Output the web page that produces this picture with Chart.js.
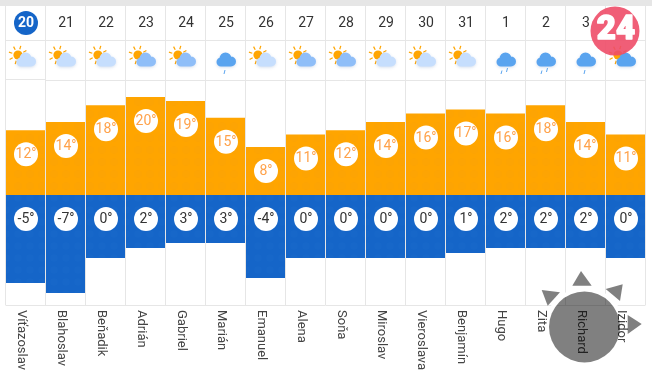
<!DOCTYPE html>
<html>
<head>
<meta charset="utf-8">
<style>
  html, body { margin: 0; padding: 0; background: #fff; overflow: hidden; }
  canvas { display: block; }
</style>
<script src="https://cdn.jsdelivr.net/npm/chart.js@4"></script>
</head>
<body>
<canvas id="chart" width="652" height="374"></canvas>
<script>
// Data
const days = ['20', '21', '22', '23', '24', '25', '26', '27', '28', '29', '30', '31', '1', '2', '3', '4'];
const names = ['Víťazoslav', 'Blahoslav', 'Beňadik', 'Adrián', 'Gabriel', 'Marián', 'Emanuel', 'Alena', 'Soňa', 'Miroslav', 'Vieroslava', 'Benjamín', 'Hugo', 'Zita', 'Richard', 'Izidor'];
const maxTemps = [12, 14, 18, 20, 19, 15, 8, 11, 12, 14, 16, 17, 16, 18, 14, 11];
const minTemps = [-5, -7, 0, 2, 3, 3, -4, 0, 0, 0, 0, 1, 2, 2, 2, 0];
// sky: sun or not, cloud shade, number of drops
const sun = [1, 1, 1, 1, 1, 0, 1, 1, 1, 1, 1, 1, 0, 0, 0, 1];
const clouds = [0, 0, 0, 1, 1, 2, 0, 1, 1, 0, 0, 0, 2, 2, 2, 2];
const drops = [0, 0, 0, 0, 0, 1, 0, 0, 0, 0, 0, 0, 2, 2, 1, 0];

const ORANGE = '#ffa500';
const BLUE = '#1565c8';
const GRID = '#e6e6e6';
const CLOUD_COLORS = ['#c6defd', '#8fbef8', '#5aa4ef'];
const FONT = 'Roboto, sans-serif';

// faint dots inside the bars
function dotted(base, dot) {
  const c = document.createElement('canvas');
  c.width = c.height = 12;
  const g = c.getContext('2d');
  g.fillStyle = base;
  g.fillRect(0, 0, 12, 12);
  g.fillStyle = dot;
  g.beginPath();
  g.arc(6, 6, 4, 0, Math.PI * 2);
  g.fill();
  return g.createPattern(c, 'repeat');
}

function drawCloud(ctx, x, color) {
  ctx.save();
  ctx.shadowColor = 'rgba(90,130,190,0.25)';
  ctx.shadowBlur = 3;
  ctx.shadowOffsetY = 1;
  ctx.fillStyle = color;
  ctx.beginPath();
  ctx.arc(x - 5, 62, 4.5, 0, Math.PI * 2);
  ctx.arc(x - 0.5, 58.5, 6, 0, Math.PI * 2);
  ctx.arc(x + 5, 61.5, 5, 0, Math.PI * 2);
  ctx.rect(x - 5, 60, 10, 6.5);
  ctx.fill();
  ctx.restore();
}

function drawSun(ctx, x) {
  const cx = x - 8, cy = 55;
  ctx.strokeStyle = ORANGE;
  ctx.lineWidth = 1.2;
  for (let k = 0; k < 8; k++) {
    const a = k * Math.PI / 4 + 0.3;
    ctx.beginPath();
    ctx.moveTo(cx + Math.cos(a) * 6, cy + Math.sin(a) * 6);
    ctx.lineTo(cx + Math.cos(a) * 9.5, cy + Math.sin(a) * 9.5);
    ctx.stroke();
  }
  ctx.fillStyle = ORANGE;
  ctx.beginPath();
  ctx.arc(cx, cy, 4.6, 0, Math.PI * 2);
  ctx.fill();
}

function drawDrops(ctx, x, n) {
  ctx.strokeStyle = CLOUD_COLORS[2];
  ctx.lineWidth = 1;
  const xs = n === 1 ? [x - 1] : [x - 4, x + 1.5];
  xs.forEach((dx, k) => {
    const top = n === 1 ? 70 : 68.5 + k * -0.5;
    ctx.beginPath();
    ctx.moveTo(dx + 0.5, top + (n === 2 && k === 0 ? 2 : 0));
    ctx.lineTo(dx - 0.5, top + 4 + (n === 2 && k === 0 ? 1.5 : 0));
    ctx.stroke();
  });
}

function triangle(ctx, a, b, c) {
  ctx.beginPath();
  ctx.moveTo(a[0], a[1]);
  ctx.lineTo(b[0], b[1]);
  ctx.lineTo(c[0], c[1]);
  ctx.closePath();
  ctx.fill();
}

const calendarPlugin = {
  id: 'calendar',
  // table lines and header rows
  beforeDatasetsDraw(chart) {
    const { ctx, chartArea, scales } = chart;
    ctx.save();
    ctx.fillStyle = GRID;
    ctx.fillRect(0, 0, 652, 6);
    ctx.strokeStyle = GRID;
    ctx.lineWidth = 1;
    ctx.beginPath();
    ctx.moveTo(chartArea.left, 40.5);
    ctx.lineTo(chartArea.right, 40.5);
    ctx.moveTo(chartArea.left, 79.5);
    ctx.lineTo(scales.x.getPixelForTick(1) - 20, 79.5);
    ctx.moveTo(scales.x.getPixelForTick(1) - 20, 80.5);
    ctx.lineTo(chartArea.right, 80.5);
    ctx.moveTo(chartArea.left, 305.5);
    ctx.lineTo(chartArea.right, 305.5);
    ctx.stroke();

    days.forEach((d, i) => {
      const x = scales.x.getPixelForTick(i);
      if (i === 0) {
        ctx.fillStyle = BLUE;
        ctx.beginPath();
        ctx.arc(x + 0.5, 23, 12, 0, Math.PI * 2);
        ctx.fill();
      }
      ctx.fillStyle = i === 0 ? '#fff' : '#333';
      ctx.font = (i === 0 ? 'bold ' : '') + '14px ' + FONT;
      ctx.textAlign = 'center';
      ctx.textBaseline = 'middle';
      ctx.fillText(d, x + 0.5, 23.5);

      if (sun[i]) drawSun(ctx, x + 0.5);
      drawCloud(ctx, x + 0.5, CLOUD_COLORS[clouds[i]]);
      if (drops[i]) drawDrops(ctx, x, drops[i]);
    });
    ctx.restore();
  },
  afterDraw(chart) {
    const { ctx, scales } = chart;
    ctx.save();

    // white discs with the temperatures
    [0, 1].forEach(ds => {
      const values = ds === 0 ? maxTemps : minTemps;
      chart.getDatasetMeta(ds).data.forEach((bar, i) => {
        const cy = ds === 0 ? bar.y + 24 : bar.base + 24;
        ctx.fillStyle = '#fff';
        ctx.beginPath();
        ctx.arc(bar.x + 0.5, cy, 12, 0, Math.PI * 2);
        ctx.fill();
        ctx.fillStyle = ds === 0 ? '#ffa24a' : '#333';
        ctx.font = '14px ' + FONT;
        ctx.textAlign = 'center';
        ctx.textBaseline = 'middle';
        ctx.fillText(values[i] + '°', bar.x + 0.5, cy + 0.5);
      });
    });

    // white halo of the round menu, under the names
    ctx.strokeStyle = '#fff';
    ctx.lineWidth = 4;
    ctx.beginPath();
    ctx.arc(584.5, 327, 37.5, Math.PI, Math.PI * 2);
    ctx.stroke();

    // names run downwards under each column
    names.forEach((n, i) => {
      const x = scales.x.getPixelForTick(i);
      ctx.save();
      ctx.translate(x - 4, 310);
      ctx.rotate(Math.PI / 2);
      ctx.fillStyle = '#444';
      ctx.font = '13px ' + FONT;
      ctx.textAlign = 'left';
      ctx.textBaseline = 'middle';
      ctx.fillText(n, 0, 0);
      ctx.restore();
    });

    // round menu overlay
    ctx.globalCompositeOperation = 'multiply';
    ctx.fillStyle = '#808080';
    ctx.beginPath();
    ctx.arc(584.5, 327, 35.5, 0, Math.PI * 2);
    ctx.fill();
    triangle(ctx, [581, 271], [572.3, 285.7], [591.7, 285.7]);
    triangle(ctx, [541.7, 290], [560, 292.3], [547.7, 305.7]);
    triangle(ctx, [622.7, 284.3], [605.7, 289], [620, 301]);
    triangle(ctx, [627.7, 315], [641.7, 324], [627.7, 334]);
    ctx.globalCompositeOperation = 'source-over';

    // logo badge
    ctx.fillStyle = 'rgba(238,76,104,0.9)';
    ctx.beginPath();
    ctx.arc(615, 31, 24.5, 0, Math.PI * 2);
    ctx.fill();
    ctx.fillStyle = '#fff';
    ctx.strokeStyle = '#fff';
    ctx.lineWidth = 1.5;
    ctx.lineJoin = 'round';
    ctx.font = '900 33px ' + FONT;
    ctx.textAlign = 'center';
    ctx.textBaseline = 'middle';
    ctx.strokeText('24', 616, 31);
    ctx.fillText('24', 616, 31);
    ctx.restore();
  }
};

new Chart(document.getElementById('chart'), {
  type: 'bar',
  data: {
    labels: names,
    datasets: [
      {
        data: maxTemps,
        yAxisID: 'y',
        base: -3.55,
        backgroundColor: dotted(ORANGE, '#fda403'),
        barPercentage: 0.975,
        categoryPercentage: 1,
        grouped: false
      },
      {
        data: minTemps,
        yAxisID: 'y2',
        base: 12.6,
        backgroundColor: dotted(BLUE, '#1767c9'),
        barPercentage: 0.975,
        categoryPercentage: 1,
        grouped: false
      }
    ]
  },
  options: {
    responsive: false,
    animation: false,
    layout: { padding: { left: 5.5, right: 6.5, top: 6, bottom: 69 } },
    plugins: {
      legend: { display: false },
      tooltip: { enabled: false }
    },
    scales: {
      x: {
        offset: true,
        grid: { color: GRID, drawTicks: false, offset: true },
        border: { display: false },
        ticks: { display: false }
      },
      // the two temperature scales are not the same, as in the original
      y: { display: false, min: -29.9, max: 41.8 },
      y2: { display: false, min: -9.4, max: 50.4 }
    }
  },
  plugins: [calendarPlugin]
});
</script>
</body>
</html>
